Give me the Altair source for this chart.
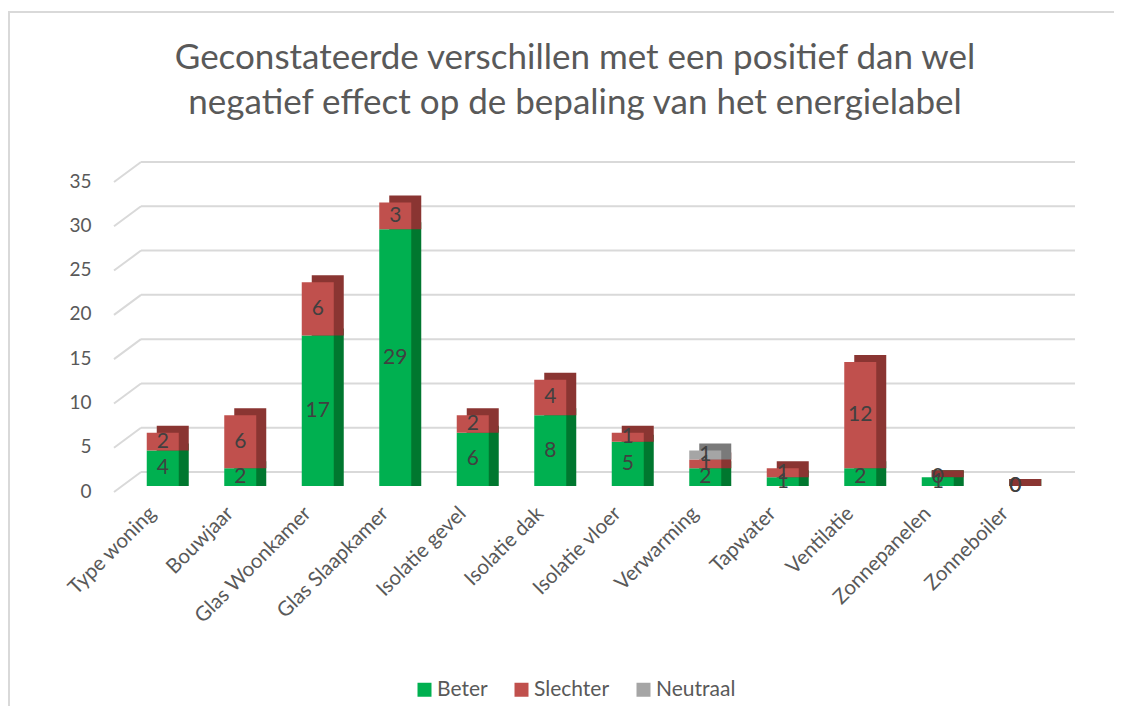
import altair as alt
import pandas as pd

categories = ["Type woning", "Bouwjaar", "Glas Woonkamer", "Glas Slaapkamer",
              "Isolatie gevel", "Isolatie dak", "Isolatie vloer", "Verwarming",
              "Tapwater", "Ventilatie", "Zonnepanelen", "Zonneboiler"]
series_names = ["Beter", "Slechter", "Neutraal"]
beter = [4, 2, 17, 29, 6, 8, 5, 2, 1, 2, 1, 0]
slechter = [2, 6, 6, 3, 2, 4, 1, 1, 1, 12, 0, 0]
neutraal = [None, None, None, None, None, None, None, 1, None, None, None, None]
y_ticks = [0, 5, 10, 15, 20, 25, 30, 35]
title_line1 = "Geconstateerde verschillen met een positief dan wel"
title_line2 = "negatief effect op de bepaling van het energielabel"

front_colors = ["#00B050", "#C0504D", "#A5A5A5"]
dark_colors = ["#00772F", "#8A3532", "#7A7A7A"]

rows = []
for order, (name, vals) in enumerate(zip(series_names, [beter, slechter, neutraal])):
    for c, v in zip(categories, vals):
        if v is not None:
            rows.append({"cat": c, "series": name, "value": v, "order": order})
df = pd.DataFrame(rows)
ticks_df = pd.DataFrame({"tick": y_ticks})

FONT = "Lato"
TXT = "#595959"
W, H = 930, 310

yscale = alt.Scale(domain=[0, 35], nice=False, zero=True)
xenc = alt.X("cat:N", sort=categories,
             scale=alt.Scale(paddingInner=0, paddingOuter=0),
             axis=alt.Axis(title=None, labelAngle=-45, labelFontSize=20.5, labelColor=TXT,
                           labelFont=FONT, domain=False, ticks=False, grid=False,
                           labelPadding=17, labelOffset=-17, labelLimit=300))
yaxis_off = alt.Axis(title=None, values=y_ticks, domain=False, ticks=False, grid=False,
                     labelFontSize=19, labelColor=TXT, labelFont=FONT,
                     labelPadding=33, labelOffset=5)

base = alt.Chart(df).transform_stack(
    stack="value", groupby=["cat"], sort=[alt.SortField("order")], as_=["v0", "v1"]
).transform_calculate(mid="(datum.v0 + datum.v1) / 2")

grid_slant = alt.Chart(ticks_df).mark_rule(
    color="#D9D9D9", strokeWidth=2, yOffset=6, y2Offset=-14
).encode(
    x=alt.value(-10), x2=alt.value(17),
    y=alt.Y("tick:Q", scale=yscale, axis=yaxis_off),
    y2="tick:Q",
)
grid_flat = alt.Chart(ticks_df).mark_rule(
    color="#D9D9D9", strokeWidth=2, yOffset=-14
).encode(x=alt.value(17), x2=alt.value(951),
         y=alt.Y("tick:Q", scale=yscale, axis=yaxis_off))

back = base.mark_bar(size=32, xOffset=10, yOffset=-7).encode(
    x=xenc,
    y=alt.Y("v1:Q", scale=yscale, axis=yaxis_off),
    y2="v0:Q",
    color=alt.Color("series:N", scale=alt.Scale(domain=series_names, range=dark_colors),
                    legend=None),
)
front = base.mark_bar(size=32).encode(
    x=xenc,
    y=alt.Y("v1:Q", scale=yscale, axis=yaxis_off),
    y2="v0:Q",
    color=alt.Color("series:N", sort=series_names,
                    scale=alt.Scale(domain=series_names, range=front_colors),
                    legend=alt.Legend(title=None, orient="none", direction="horizontal",
                                      legendX=290, legendY=503, symbolType="square",
                                      symbolSize=196, symbolStrokeWidth=0,
                                      labelFontSize=21, labelColor=TXT, labelFont=FONT,
                                      labelOffset=2, columnPadding=23)),
)
labels = base.mark_text(fontSize=21, color="#404040", font=FONT).encode(
    x=xenc,
    y=alt.Y("mid:Q", scale=yscale, axis=yaxis_off),
    text="value:Q",
)

one = pd.DataFrame({"a": [0]})
title1 = alt.Chart(one).mark_text(
    fontSize=35, font=FONT, color=TXT, align="center", baseline="alphabetic"
).encode(x=alt.value(451), y=alt.value(-107), text=alt.value(title_line1))
title2 = alt.Chart(one).mark_text(
    fontSize=35, font=FONT, color=TXT, align="center", baseline="alphabetic"
).encode(x=alt.value(451), y=alt.value(-62), text=alt.value(title_line2))

frame_left = alt.Chart(one).mark_rule(color="#D9D9D9", strokeWidth=2).encode(
    x=alt.value(-115), y=alt.value(-164), y2=alt.value(600))
frame_top = alt.Chart(one).mark_rule(color="#D9D9D9", strokeWidth=2).encode(
    x=alt.value(-116), x2=alt.value(1100), y=alt.value(-164))

chart = alt.layer(frame_left, frame_top, grid_slant, grid_flat, back, front, labels,
                  title1, title2).resolve_scale(
    color="independent"
).properties(
    width=W, height=H,
    autosize=alt.AutoSizeParams(type="none"),
    padding={"left": 116, "top": 168, "right": 60, "bottom": 220},
).configure_view(strokeWidth=0)

chart.save("out.html", embed_options={"renderer": "svg", "actions": False})
